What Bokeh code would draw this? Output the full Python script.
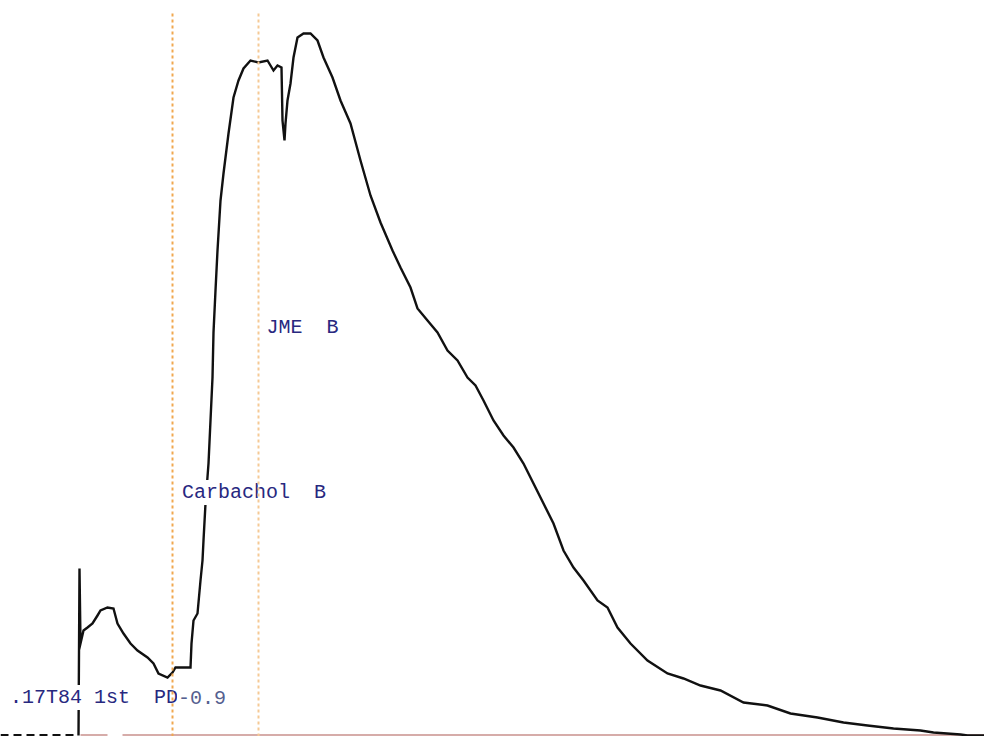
from bokeh.plotting import figure
from bokeh.models import Range1d, ColumnDataSource
from bokeh.core.properties import value
from bokeh.embed import file_html
from bokeh.resources import INLINE

# ---- data (time in arbitrary units, tension in arbitrary units) ----
trace_t = [78, 79, 80, 83, 87, 92, 97, 100, 107, 113, 117, 123, 130, 137, 147, 153, 158, 167,
           172, 175, 190, 191, 193, 197, 200, 202, 203, 205, 208, 210, 212, 213, 215, 217,
           220, 223, 228, 233, 238, 243, 250, 258, 267, 270, 273, 277, 281, 282, 284, 285,
           287, 290, 293, 297, 303, 310, 317, 323, 332, 340, 350, 360, 370, 380, 392, 400,
           410, 417, 427, 437, 447, 457, 467, 475, 483, 493, 503, 513, 523, 533, 543, 553,
           563, 573, 583, 597, 607, 617, 630, 647, 667, 683, 700, 720, 743, 767, 790, 817,
           843, 867, 893, 920, 933, 960, 967, 1000]
trace_v = [17, 184, 109, 122, 125, 129, 137, 142, 145, 144, 129, 119, 109, 102, 95, 89, 79, 75,
           80, 85, 85, 109, 132, 139, 172, 192, 212, 249, 289, 332, 375, 420, 462, 502,
           552, 579, 619, 655, 672, 684, 692, 690, 692, 687, 682, 687, 685, 632, 612, 629,
           652, 669, 695, 715, 719, 719, 712, 695, 675, 652, 629, 592, 557, 530, 502, 485,
           465, 444, 432, 420, 402, 392, 375, 367, 352, 332, 317, 305, 289, 269, 249, 229,
           202, 185, 172, 152, 145, 125, 109, 92, 79, 74, 67, 62, 50, 47, 39, 35,
           30, 27, 24, 22, 20, 18, 17, 17]

pre_t = [0, 78]
pre_v = [17.5, 17.5]

base_x0 = [80, 122]
base_x1 = [107, 1000]
base_v = [17.5, 17.5]

event_t = [172, 258]
event_colors = ["#f0a850", "#f5c995"]
event_top = 740
event_bottom = 16

label_texts = [".17T84 1st", "PD", "-0.9", "Carbachol", "B", "JME", "B"]
label_t = [8.5, 152.5, 176.5, 180.5, 312.5, 265, 325]
label_v = [55, 55, 55, 260, 260, 425, 425]
label_colors = ["#28287f", "#28287f", "#55608f", "#28287f", "#28287f", "#28287f", "#28287f"]

# ---- figure ----
p = figure(width=984, height=736, output_backend="svg", toolbar_location=None,
           x_range=Range1d(0, 984), y_range=Range1d(16, 752),
           min_border=0, min_border_left=0, min_border_right=0,
           min_border_top=0, min_border_bottom=0)
p.xaxis.visible = False
p.yaxis.visible = False
p.grid.visible = False
p.outline_line_color = None
p.background_fill_color = "white"
p.border_fill_color = "white"

# baseline
p.segment(x0=base_x0, y0=base_v, x1=base_x1, y1=base_v, line_color="#c9918c", line_width=1.6)
p.line(pre_t, pre_v, line_color="#111111", line_width=2, line_dash="8 5")

# trace
p.line(trace_t, trace_v, line_color="#111111", line_width=2.4, line_join="miter")

# labels (white box behind, as in the recorder printout)
src = ColumnDataSource(dict(x=label_t, y=label_v, text=label_texts, color=label_colors))
p.text(x="x", y="y", text="text", source=src, text_color="color",
       text_font=value("Liberation Mono"), text_font_size="20px",
       text_align="left", text_baseline="alphabetic",
       background_fill_color="white", padding=1)

# event markers
for t, c in zip(event_t, event_colors):
    p.segment(x0=[t], y0=[event_bottom], x1=[t], y1=[event_top],
              line_color=c, line_width=2, line_dash="3 3")

open("out.html", "w").write(file_html(p, INLINE))
